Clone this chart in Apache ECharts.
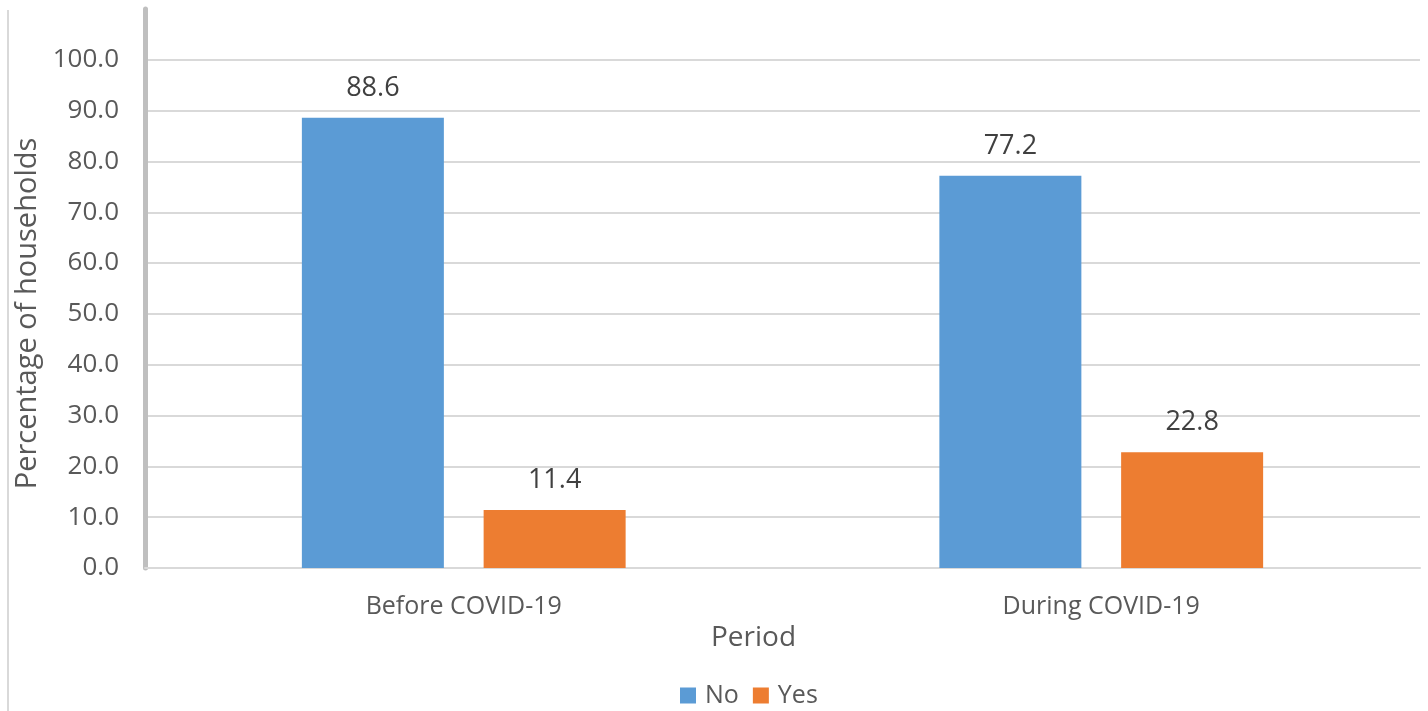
<!DOCTYPE html>
<html><head><meta charset="utf-8">
<script src="https://cdn.jsdelivr.net/npm/echarts@6/dist/echarts.min.js"></script>
<style>html,body{margin:0;padding:0;background:#fff}#c{width:1428px;height:711px}</style>
</head><body><div id="c"></div>
<script>
const categories = ['Before COVID-19', 'During COVID-19'];
const noValues = [88.6, 77.2];
const yesValues = [11.4, 22.8];
const seriesNames = ['No', 'Yes'];

const FONT = '"Open Sans", "Noto Sans", sans-serif';
const chart = echarts.init(document.getElementById('c'));
chart.setOption({
  animation: false,
  textStyle: {fontFamily: FONT},
  grid: {left: 145, right: 8, top: 9, bottom: 143},
  graphic: [{type: 'line', shape: {x1: 8, y1: 10, x2: 8, y2: 711}, style: {stroke: '#d9d9d9', lineWidth: 2}}],
  legend: {
    bottom: -2, left: 675, itemWidth: 16, itemHeight: 16, itemGap: 14,
    icon: 'rect',
    textStyle: {fontSize: 25, color: '#595959', fontFamily: FONT, padding: [0, 0, 0, 4]},
    data: seriesNames
  },
  xAxis: {
    type: 'category', data: categories,
    name: 'Period', nameLocation: 'middle', nameGap: 56,
    nameTextStyle: {fontSize: 28, color: '#595959', padding: [0, 58, 0, 0]},
    axisLine: {lineStyle: {color: '#d9d9d9', width: 2}},
    axisTick: {show: false},
    axisLabel: {fontSize: 25, color: '#595959', margin: 26}
  },
  yAxis: {
    type: 'value', min: 0, max: 110, interval: 10,
    name: 'Percentage of households', nameLocation: 'middle', nameGap: 92,
    nameTextStyle: {fontSize: 29, color: '#595959', padding: [0, 50, 0, 0]},
    axisLine: {show: true, lineStyle: {color: '#bfbfbf', width: 5}},
    axisTick: {show: false},
    axisLabel: {fontSize: 26, color: '#595959', margin: 26,
      formatter: v => v > 100 ? '' : v.toFixed(1)},
    splitLine: {show: true, showMaxLine: false, lineStyle: {color: '#d9d9d9', width: 2}}
  },
  series: [
    {name: seriesNames[0], type: 'bar', data: noValues, barWidth: 142, barGap: '28%',
      itemStyle: {color: '#5B9BD5'},
      label: {show: true, position: 'top', distance: 16, fontSize: 27, color: '#404040', formatter: p => p.value.toFixed(1)}},
    {name: seriesNames[1], type: 'bar', data: yesValues, barWidth: 142, barGap: '28%',
      itemStyle: {color: '#ED7D31'},
      label: {show: true, position: 'top', distance: 16, fontSize: 27, color: '#404040', formatter: p => p.value.toFixed(1)}}
  ]
});
</script></body></html>
